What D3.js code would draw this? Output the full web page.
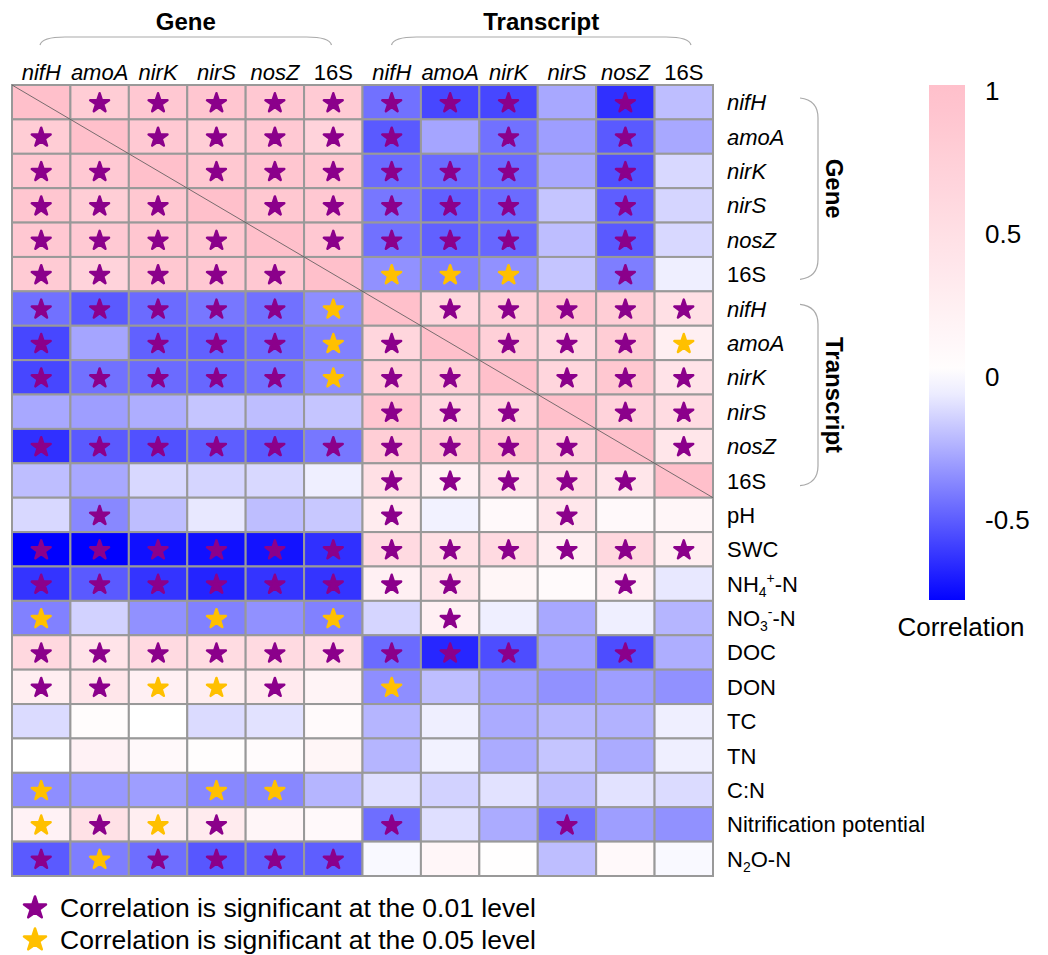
<!DOCTYPE html>
<html>
<head>
<meta charset="utf-8">
<script src="https://cdn.jsdelivr.net/npm/d3@7"></script>
<style>
  body { margin: 0; background: #fff; }
  text { font-family: "Liberation Sans", Arial, sans-serif; fill: #000; }
</style>
</head>
<body>
<svg id="chart" width="1048" height="955"></svg>
<script>
// column / row labels
const genes = ["nifH", "amoA", "nirK", "nirS", "nosZ", "16S"];
const colKeys = genes.map((g) => "G_" + g).concat(genes.map((g) => "T_" + g));
const envLabels = ["pH", "SWC", "NH4+-N", "NO3--N", "DOC", "DON", "TC", "TN", "C:N", "Nitrification potential", "N2O-N"];
const rowKeys = colKeys.concat(envLabels);

// correlation values, columns = gene x6 then transcript x6
const corrGene = [
  [1.00, 0.80, 0.87, 0.90, 0.87, 0.82, -0.44, -0.57, -0.57, -0.27, -0.64, -0.20],
  [0.80, 1.00, 0.85, 0.78, 0.85, 0.70, -0.51, -0.28, -0.44, -0.30, -0.51, -0.27],
  [0.87, 0.85, 1.00, 0.88, 0.90, 0.88, -0.46, -0.46, -0.46, -0.27, -0.54, -0.12],
  [0.90, 0.78, 0.88, 1.00, 0.88, 0.87, -0.42, -0.49, -0.46, -0.18, -0.50, -0.13],
  [0.87, 0.85, 0.90, 0.88, 1.00, 0.87, -0.44, -0.49, -0.47, -0.20, -0.51, -0.12],
  [0.82, 0.70, 0.88, 0.87, 0.87, 1.00, -0.34, -0.39, -0.34, -0.18, -0.40, -0.05]
];
const corrTranscript = [
  [-0.44, -0.51, -0.46, -0.42, -0.44, -0.35, 1.00, 0.65, 0.75, 0.90, 0.78, 0.50],
  [-0.57, -0.28, -0.49, -0.49, -0.46, -0.39, 0.65, 1.00, 0.75, 0.60, 0.80, 0.25],
  [-0.57, -0.44, -0.46, -0.47, -0.44, -0.35, 0.75, 0.75, 1.00, 0.65, 0.88, 0.45],
  [-0.27, -0.30, -0.25, -0.18, -0.20, -0.18, 0.90, 0.60, 0.65, 1.00, 0.70, 0.55],
  [-0.64, -0.51, -0.54, -0.50, -0.51, -0.42, 0.78, 0.80, 0.88, 0.70, 1.00, 0.40],
  [-0.20, -0.27, -0.12, -0.13, -0.12, -0.05, 0.50, 0.25, 0.45, 0.55, 0.40, 1.00]
];
const corrEnv = [
  [-0.12, -0.37, -0.20, -0.07, -0.20, -0.17, 0.30, -0.04, 0.10, 0.38, 0.10, 0.14],
  [-0.79, -0.79, -0.74, -0.74, -0.73, -0.64, 0.58, 0.50, 0.58, 0.27, 0.62, 0.27],
  [-0.63, -0.51, -0.63, -0.68, -0.63, -0.63, 0.24, 0.40, 0.15, 0.08, 0.24, -0.07],
  [-0.39, -0.14, -0.34, -0.39, -0.34, -0.39, -0.13, 0.24, -0.05, -0.27, -0.05, -0.23],
  [0.62, 0.43, 0.58, 0.56, 0.58, 0.52, -0.46, -0.67, -0.55, -0.29, -0.55, -0.25],
  [0.27, 0.40, 0.24, 0.27, 0.33, 0.17, -0.35, -0.20, -0.29, -0.34, -0.30, -0.34],
  [-0.11, 0.05, 0.00, -0.11, -0.09, 0.08, -0.23, -0.05, -0.26, -0.22, -0.24, -0.05],
  [0.00, 0.20, 0.10, 0.03, 0.06, 0.15, -0.23, -0.04, -0.26, -0.18, -0.26, -0.05],
  [-0.35, -0.32, -0.30, -0.37, -0.37, -0.23, -0.10, -0.14, -0.09, -0.20, -0.09, -0.11],
  [0.20, 0.48, 0.27, 0.32, 0.14, 0.10, -0.45, -0.10, -0.26, -0.44, -0.30, -0.34],
  [-0.51, -0.40, -0.45, -0.52, -0.50, -0.50, -0.02, 0.14, 0.02, -0.20, 0.10, -0.02]
];

// significance: 1 = p<0.01 (purple star), 2 = p<0.05 (yellow star), 0 = none
const sigGene = [
  [0, 1, 1, 1, 1, 1, 1, 1, 1, 0, 1, 0],
  [1, 0, 1, 1, 1, 1, 1, 0, 1, 0, 1, 0],
  [1, 1, 0, 1, 1, 1, 1, 1, 1, 0, 1, 0],
  [1, 1, 1, 0, 1, 1, 1, 1, 1, 0, 1, 0],
  [1, 1, 1, 1, 0, 1, 1, 1, 1, 0, 1, 0],
  [1, 1, 1, 1, 1, 0, 2, 2, 2, 0, 1, 0]
];
const sigTranscript = [
  [1, 1, 1, 1, 1, 2, 0, 1, 1, 1, 1, 1],
  [1, 0, 1, 1, 1, 2, 1, 0, 1, 1, 1, 2],
  [1, 1, 1, 1, 1, 2, 1, 1, 0, 1, 1, 1],
  [0, 0, 0, 0, 0, 0, 1, 1, 1, 0, 1, 1],
  [1, 1, 1, 1, 1, 1, 1, 1, 1, 1, 0, 1],
  [0, 0, 0, 0, 0, 0, 1, 1, 1, 1, 1, 0]
];
const sigEnv = [
  [0, 1, 0, 0, 0, 0, 1, 0, 0, 1, 0, 0],
  [1, 1, 1, 1, 1, 1, 1, 1, 1, 1, 1, 1],
  [1, 1, 1, 1, 1, 1, 1, 1, 0, 0, 1, 0],
  [2, 0, 0, 2, 0, 2, 0, 1, 0, 0, 0, 0],
  [1, 1, 1, 1, 1, 1, 1, 1, 1, 0, 1, 0],
  [1, 1, 2, 2, 1, 0, 2, 0, 0, 0, 0, 0],
  [0, 0, 0, 0, 0, 0, 0, 0, 0, 0, 0, 0],
  [0, 0, 0, 0, 0, 0, 0, 0, 0, 0, 0, 0],
  [2, 0, 0, 2, 2, 0, 0, 0, 0, 0, 0, 0],
  [2, 1, 2, 1, 0, 0, 1, 0, 0, 1, 0, 0],
  [1, 2, 1, 1, 1, 1, 0, 0, 0, 0, 0, 0]
];

const legendTicks = [1, 0.5, 0, -0.5];

const corr = corrGene.concat(corrTranscript, corrEnv);
const sig = sigGene.concat(sigTranscript, sigEnv);

const svg = d3.select("#chart");
const gridLeft = 12, gridRight = 713, gridTop = 85, gridBottom = 876;

const x = d3.scaleBand().domain(colKeys).range([gridLeft, gridRight]);
const y = d3.scaleBand().domain(rowKeys).range([gridTop, gridBottom]);
const color = d3.scaleLinear()
  .domain([-0.79, 0, 1])
  .range(["#0000ff", "#ffffff", "#ffc0cb"])
  .clamp(true);
const starColor = { 1: "#8b008b", 2: "#ffc000" };

const cells = [];
rowKeys.forEach((r, i) => {
  colKeys.forEach((c, j) => {
    cells.push({ row: r, col: c, v: corr[i][j], s: sig[i][j] });
  });
});

// cells
svg.append("g")
  .selectAll("rect")
  .data(cells)
  .join("rect")
  .attr("x", (d) => x(d.col))
  .attr("y", (d) => y(d.row))
  .attr("width", x.bandwidth())
  .attr("height", y.bandwidth())
  .attr("fill", (d) => color(d.v))
  .attr("stroke", "#999")
  .attr("stroke-width", 2);

// outer border
svg.append("rect")
  .attr("x", gridLeft).attr("y", gridTop)
  .attr("width", gridRight - gridLeft).attr("height", gridBottom - gridTop)
  .attr("fill", "none").attr("stroke", "#999").attr("stroke-width", 2);

// diagonal line through the two symmetric blocks
svg.append("line")
  .attr("x1", x("G_nifH")).attr("y1", y("G_nifH"))
  .attr("x2", x("T_16S") + x.bandwidth()).attr("y2", y("T_16S") + y.bandwidth())
  .attr("stroke", "#555").attr("stroke-width", 0.8);

// stars
const star = d3.symbol().type(d3.symbolStar).size(110);
svg.append("g")
  .selectAll("path")
  .data(cells.filter((d) => d.s > 0))
  .join("path")
  .attr("d", star)
  .attr("transform", (d) => `translate(${x(d.col) + x.bandwidth() / 2},${y(d.row) + y.bandwidth() / 2 + 1})`)
  .attr("fill", (d) => starColor[d.s])
  .attr("stroke", (d) => starColor[d.s])
  .attr("stroke-width", 2.5)
  .attr("stroke-linejoin", "round");

// column labels
svg.append("g")
  .selectAll("text")
  .data(colKeys)
  .join("text")
  .attr("x", (d) => x(d) + x.bandwidth() / 2)
  .attr("y", 80)
  .attr("text-anchor", "middle")
  .style("font-size", "22px")
  .style("font-style", (d) => (d.endsWith("16S") ? "normal" : "italic"))
  .text((d) => d.slice(2));

// row labels, with sub/superscripts
const rowParts = {
  "NH4+-N": [["NH", 0], ["4", 1], ["+", -1], ["-N", 0]],
  "NO3--N": [["NO", 0], ["3", 1], ["-", -1], ["-N", 0]],
  "N2O-N": [["N", 0], ["2", 1], ["O-N", 0]]
};
const rowText = svg.append("g")
  .selectAll("text")
  .data(rowKeys)
  .join("text")
  .attr("x", 727)
  .attr("y", (d) => y(d) + y.bandwidth() / 2 + 8)
  .style("font-size", "22px")
  .style("font-style", (d) => (d.startsWith("G_") || d.startsWith("T_")) && !d.endsWith("16S") ? "italic" : "normal");

rowText.each(function (d) {
  const t = d3.select(this);
  if (rowParts[d]) {
    let prev = 0;
    rowParts[d].forEach(([s, pos]) => {
      const shift = pos === 1 ? 5 : pos === -1 ? -9 : 0;
      t.append("tspan")
        .attr("dy", shift - prev)
        .style("font-size", pos === 0 ? "22px" : "14px")
        .text(s);
      prev = shift;
    });
  } else {
    t.text(d.startsWith("G_") || d.startsWith("T_") ? d.slice(2) : d);
  }
});

// group headers and braces
const braceColor = "#aaa";
const groups = [
  { name: "Gene", first: "G_nifH", last: "G_16S", padL: 28, padR: 31 },
  { name: "Transcript", first: "T_nifH", last: "T_16S", padL: 29, padR: 22 }
];
groups.forEach((g) => {
  const x0 = x(g.first) + g.padL, x1 = x(g.last) + x.bandwidth() - g.padR;
  svg.append("path")
    .attr("d", `M${x0},45 Q${x0 + 2},37 ${x0 + 25},37 L${x1 - 25},37 Q${x1 - 2},37 ${x1},45`)
    .attr("fill", "none").attr("stroke", braceColor).attr("stroke-width", 1.2);
  svg.append("text")
    .attr("x", (x0 + x1) / 2).attr("y", 30)
    .attr("text-anchor", "middle")
    .style("font-size", "24px").style("font-weight", "bold")
    .text(g.name);

  const y0 = y(g.first) + 13, y1 = y(g.last) + y.bandwidth() - 12;
  svg.append("path")
    .attr("d", `M800,${y0} Q818,${y0 + 2} 818,${y0 + 20} L818,${y1 - 20} Q818,${y1 - 2} 800,${y1}`)
    .attr("fill", "none").attr("stroke", braceColor).attr("stroke-width", 1.2);
  svg.append("text")
    .attr("transform", `translate(826,${(y0 + y1) / 2}) rotate(90)`)
    .attr("text-anchor", "middle")
    .style("font-size", "24px").style("font-weight", "bold")
    .text(g.name);
});

// colour legend
const ly = d3.scaleLinear().domain([-0.78, 1.02]).range([600, 85]);
const grad = svg.append("defs").append("linearGradient")
  .attr("id", "corrGrad").attr("x1", 0).attr("y1", 1).attr("x2", 0).attr("y2", 0);
d3.range(0, 1.0001, 0.05).forEach((t) => {
  const v = -0.78 + t * 1.8;
  grad.append("stop").attr("offset", t).attr("stop-color", color(v));
});
svg.append("rect")
  .attr("x", 929).attr("y", 85).attr("width", 36).attr("height", 515)
  .attr("fill", "url(#corrGrad)");

const legendAxis = svg.append("g")
  .attr("transform", "translate(975,0)")
  .call(d3.axisRight(ly).tickValues(legendTicks).tickSize(0).tickPadding(10)
    .tickFormat((d) => String(d)));
legendAxis.select(".domain").remove();
legendAxis.selectAll("text")
  .style("font-size", "26px")
  .style("font-family", "'Liberation Sans', Arial, sans-serif");

svg.append("text")
  .attr("x", 961).attr("y", 636)
  .attr("text-anchor", "middle")
  .style("font-size", "26px")
  .text("Correlation");

// significance legend
const sigLegend = [
  [1, "Correlation is significant at the 0.01 level"],
  [2, "Correlation is significant at the 0.05 level"]
];
sigLegend.forEach(([s, label], i) => {
  const yy = 908 + i * 32;
  svg.append("path")
    .attr("d", d3.symbol().type(d3.symbolStar).size(150))
    .attr("transform", `translate(35,${yy})`)
    .attr("fill", starColor[s]).attr("stroke", starColor[s])
    .attr("stroke-width", 2.5).attr("stroke-linejoin", "round");
  svg.append("text")
    .attr("x", 60).attr("y", yy + 9)
    .style("font-size", "26.5px")
    .text(label);
});
</script>
</body>
</html>
